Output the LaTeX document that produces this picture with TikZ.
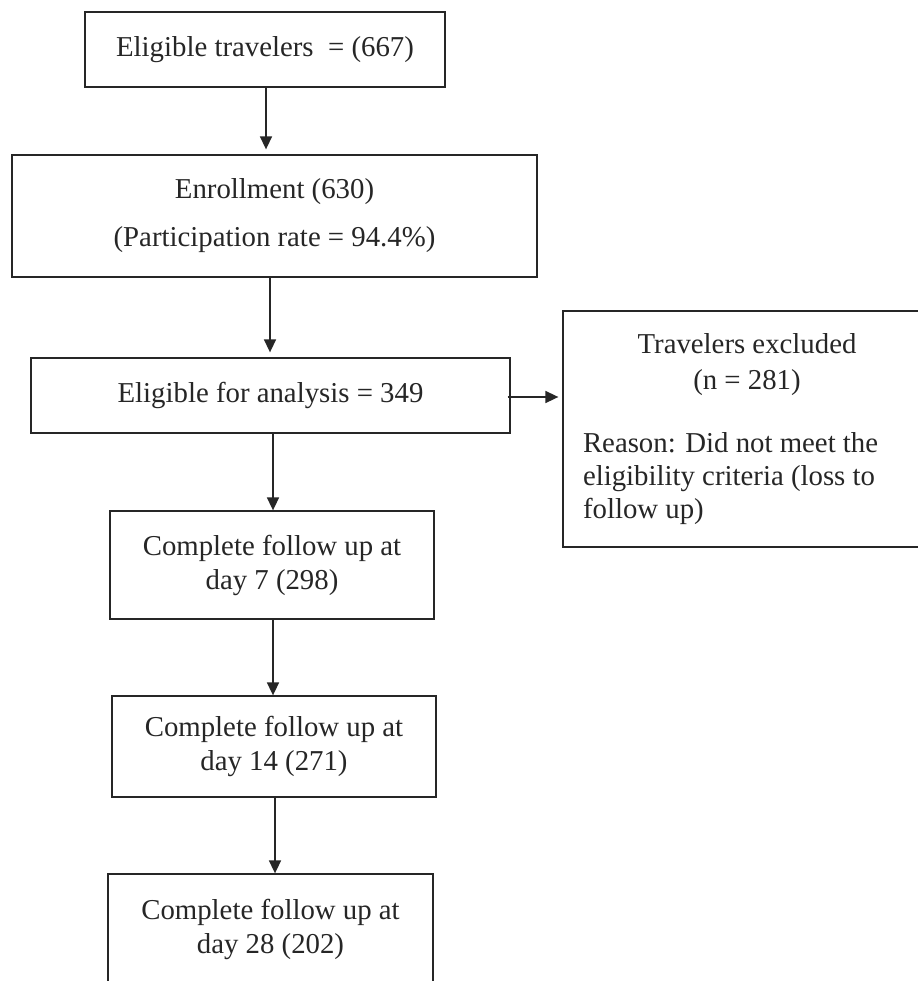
\documentclass[tikz,border=0pt]{standalone}
\usepackage{fontspec}
\setmainfont{Liberation Serif}
\usetikzlibrary{arrows.meta}
\begin{document}
\begin{tikzpicture}[x=1pt,y=-1pt,
  box/.style={draw=black!85, line width=1.3pt, inner sep=0pt, align=center,
    font=\fontsize{28.8}{34}\selectfont, text=black!85},
  arr/.style={draw=black!85, line width=1.6pt, -{Triangle[length=13pt,width=12pt]}}]
\useasboundingbox (0,0) rectangle (917,981);
\fill[white] (0,0) rectangle (917,981);
\node[box, minimum width=360pt, minimum height=75pt] (b1) at (265,49.5)
  {Eligible travelers\ \ = (667)};
\node[box, minimum width=525pt, minimum height=122pt] (b2) at (274.5,216)
  {Enrollment (630)\\[14pt](Participation rate = 94.4\%)};
\node[box, minimum width=479pt, minimum height=75pt] (b3) at (270.5,395.5)
  {Eligible for analysis = 349};
\node[box, minimum width=368pt, minimum height=236pt,
  font=\fontsize{28.8}{33}\selectfont] (bR) at (747,429)
  {Travelers excluded\\[3pt](n = 281)\\[30pt]%
   \makebox[328pt][l]{Reason: Did not meet the}\\%
   \makebox[328pt][l]{eligibility criteria (loss to}\\%
   \makebox[328pt][l]{follow up)}};
\node[box, minimum width=324pt, minimum height=108pt] (b4) at (272,565)
  {Complete follow up at\\day 7 (298)};
\node[box, minimum width=324pt, minimum height=101pt] (b5) at (274,746.5)
  {Complete follow up at\\day 14 (271)};
\node[box, minimum width=325pt, minimum height=111pt] (b6) at (270.5,929.5)
  {Complete follow up at\\day 28 (202)};
\draw[arr, shorten >=5pt] ([xshift=1pt]b1.south) -- ([xshift=1pt]b1.south |- b2.north);
\draw[arr, shorten >=5pt] ([xshift=-4.5pt]b2.south) -- ([xshift=-4.5pt]b2.south |- b3.north);
\draw[arr] ([xshift=2.5pt]b3.south) -- ([xshift=2.5pt]b3.south |- b4.north);
\draw[arr] ([xshift=1pt]b4.south) -- ([xshift=1pt]b4.south |- b5.north);
\draw[arr] ([xshift=1pt]b5.south) -- ([xshift=1pt]b5.south |- b6.north);
\draw[arr, shorten >=4pt] ([xshift=-3pt,yshift=-1.5pt]b3.east) -- ([yshift=-1.5pt]b3.east -| bR.west);
\end{tikzpicture}
\end{document}
